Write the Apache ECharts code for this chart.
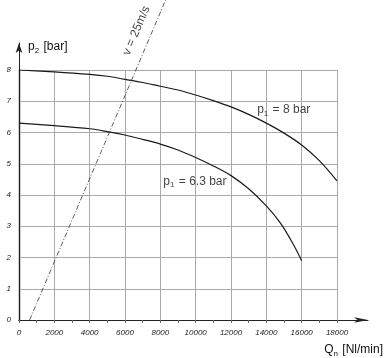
<!DOCTYPE html>
<html><head><meta charset="utf-8">
<script src="https://cdn.jsdelivr.net/npm/echarts@6/dist/echarts.min.js"></script>
<style>html,body{margin:0;padding:0;background:#fff}#c{width:386px;height:358px}</style>
</head><body><div id="c"></div>
<script>
// Data
const flowTicks = [0, 2000, 4000, 6000, 8000, 10000, 12000, 14000, 16000, 18000];
const pressureTicks = [0, 1, 2, 3, 4, 5, 6, 7, 8];
const curve8Q = [0, 2000, 4000, 5000, 6000, 7000, 8000, 9000, 10000, 11000, 12000, 13000, 14000, 15000, 16000, 17000, 18000];
const curve8P = [8.00, 7.94, 7.86, 7.80, 7.70, 7.60, 7.48, 7.36, 7.20, 7.02, 6.82, 6.58, 6.30, 5.98, 5.60, 5.10, 4.45];
const curve63Q = [0, 2000, 4000, 5000, 6000, 7000, 8000, 9000, 10000, 11000, 12000, 13000, 14000, 14800, 15500, 16000];
const curve63P = [6.30, 6.22, 6.12, 6.03, 5.92, 5.78, 5.63, 5.44, 5.20, 4.93, 4.62, 4.20, 3.65, 3.10, 2.45, 1.90];
const velocityQ = [600, 8300];
const velocityP = [0, 10.24];
const curveLabelText = ['{t|p}{s|1}{t| = 8 bar}', '{t|p}{s|1}{t| = 6.3 bar}'];
const curveLabelQ = [13480, 8170];
const curveLabelP = [6.72, 4.43];
const velocityLabelText = 'v = 25m/s';
const velocityLabelQ = [6650];
const velocityLabelP = [9.26];

const FONT = '"Liberation Sans", Arial, sans-serif';
const zip = (a, b) => a.map((v, i) => [v, b[i]]);
const richText = {
  t: { fontSize: 12, fontFamily: FONT, fontWeight: 'normal', color: '#111', lineHeight: 14 },
  s: { fontSize: 8, fontFamily: FONT, fontWeight: 'normal', color: '#111', padding: [7, 1, 0, 0], lineHeight: 14 }
};

const chart = echarts.init(document.getElementById('c'), null, { renderer: 'canvas' });
chart.setOption({
  animation: false,
  backgroundColor: '#fff',
  title: [
    { text: '{t|p}{s|2}{t| [bar]}', left: 28, top: 40, padding: 0, textStyle: { fontWeight: 'normal', rich: richText } },
    { text: '{t|Q}{s|n}{t| [Nl/min]}', right: 3, top: 343, padding: 0, textStyle: { fontWeight: 'normal', rich: richText } }
  ],
  grid: [
    { left: 19, right: 49, top: 70, bottom: 38, containLabel: false },
    { left: 19, right: 18, top: 43, bottom: 38, containLabel: false }
  ],
  xAxis: [
    {
      gridIndex: 0, type: 'value', min: 0, max: 18000, interval: 2000,
      axisLine: { show: true, lineStyle: { color: '#222', width: 1 } },
      axisTick: { show: true, length: 3, lineStyle: { color: '#666' } },
      minorTick: { show: true, splitNumber: 2, length: 3, lineStyle: { color: '#666' } },
      axisLabel: { show: true, margin: 9, fontSize: 8, fontStyle: 'italic', fontFamily: FONT, color: '#222',
        customValues: flowTicks, formatter: v => String(v) },
      splitLine: { show: true, lineStyle: { color: '#aaa', width: 1 } }
    },
    {
      gridIndex: 0, type: 'value', position: 'top', min: 0, max: 18000,
      axisLine: { show: true, lineStyle: { color: '#555', width: 1 } },
      axisTick: { show: false }, axisLabel: { show: false }, splitLine: { show: false }
    },
    {
      gridIndex: 1, type: 'value', min: 0, max: 1,
      axisLine: { show: true, symbol: ['none', 'arrow'], symbolSize: [4, 14], lineStyle: { color: '#222', width: 1 } },
      axisTick: { show: false }, axisLabel: { show: false }, splitLine: { show: false }
    }
  ],
  yAxis: [
    {
      gridIndex: 0, type: 'value', min: 0, max: 8, interval: 1,
      axisLine: { show: true, lineStyle: { color: '#222', width: 1 } },
      axisTick: { show: false },
      axisLabel: { show: true, margin: 8, fontSize: 8, fontStyle: 'italic', fontFamily: FONT, color: '#222',
        customValues: pressureTicks, formatter: v => String(v) },
      splitLine: { show: true, lineStyle: { color: '#aaa', width: 1 } }
    },
    {
      gridIndex: 0, type: 'value', position: 'right', min: 0, max: 8,
      axisLine: { show: true, lineStyle: { color: '#bdbdbd', width: 2.5 } },
      axisTick: { show: false }, axisLabel: { show: false }, splitLine: { show: false }
    },
    {
      gridIndex: 1, type: 'value', min: 0, max: 1,
      axisLine: { show: true, symbol: ['none', 'arrow'], symbolSize: [5, 10], lineStyle: { color: '#222', width: 1 } },
      axisTick: { show: false }, axisLabel: { show: false }, splitLine: { show: false }
    }
  ],
  series: [
    {
      type: 'line', xAxisIndex: 0, yAxisIndex: 0, data: zip(curve8Q, curve8P),
      smooth: 0.35, showSymbol: false, symbol: 'none',
      lineStyle: { color: '#1a1a1a', width: 1.2 }
    },
    {
      type: 'line', xAxisIndex: 0, yAxisIndex: 0, data: zip(curve63Q, curve63P),
      smooth: 0.35, showSymbol: false, symbol: 'none',
      lineStyle: { color: '#1a1a1a', width: 1.2 }
    },
    {
      type: 'line', xAxisIndex: 0, yAxisIndex: 0, data: zip(velocityQ, velocityP),
      clip: false, showSymbol: false, symbol: 'none',
      lineStyle: { color: '#333', width: 0.8, type: [5, 2, 1, 2] }
    },
    {
      type: 'scatter', xAxisIndex: 0, yAxisIndex: 0, clip: false, symbolSize: 0,
      data: zip(curveLabelQ, curveLabelP).map((v, i) => ({ value: v, label: { formatter: curveLabelText[i] } })),
      label: { show: true, position: 'right', distance: 0, rich: richText },
      silent: true
    },
    {
      type: 'scatter', xAxisIndex: 0, yAxisIndex: 0, clip: false, symbolSize: 0,
      data: zip(velocityLabelQ, velocityLabelP),
      label: { show: true, position: 'inside', rotate: 66.6, formatter: velocityLabelText,
        fontSize: 12, fontFamily: FONT, color: '#111' },
      silent: true
    }
  ]
});
</script>
</body></html>
